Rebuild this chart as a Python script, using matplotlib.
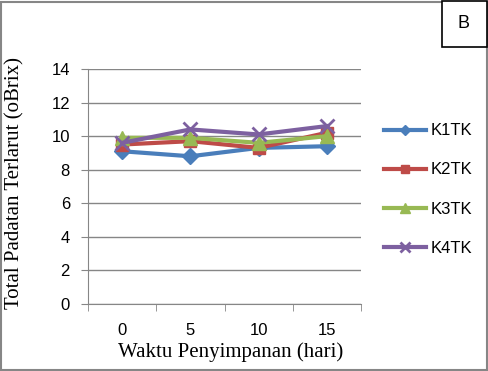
import matplotlib
matplotlib.use("Agg")
import matplotlib.pyplot as plt
from matplotlib.patches import Rectangle

days = ["0", "5", "10", "15"]
k1tk = [9.1, 8.8, 9.3, 9.4]
k2tk = [9.5, 9.7, 9.3, 10.2]
k3tk = [9.9, 9.9, 9.6, 10.0]
k4tk = [9.6, 10.4, 10.1, 10.6]
series_names = ["K1TK", "K2TK", "K3TK", "K4TK"]
y_ticks = [0, 2, 4, 6, 8, 10, 12, 14]

colors = ["#4A7EBB", "#BE4B48", "#98B954", "#7D60A0"]
markers = ["D", "s", "^", "x"]
sizes = [8, 9, 10, 10]

W, H = 489, 371
fig = plt.figure(figsize=(W / 100, H / 100), dpi=100)
ax = fig.add_axes([88 / W, 1 - 304 / H, (361 - 88) / W, (304 - 69) / H])

x = range(len(days))
for vals, name, c, m, s in zip([k1tk, k2tk, k3tk, k4tk], series_names, colors, markers, sizes):
    ax.plot(x, vals, color=c, marker=m, markersize=s, linewidth=3,
            markeredgewidth=2 if m == "x" else 1, markeredgecolor=c, label=name)

ax.set_xlim(-0.5, len(days) - 0.5)
ax.set_ylim(0, 14)
ax.set_yticks(y_ticks)
ax.set_yticklabels([str(v) for v in y_ticks], fontsize=12, family="Liberation Sans")
ax.set_xticks(list(x))
ax.set_xticklabels(days, fontsize=12, family="Liberation Sans")
ax.tick_params(axis="x", length=0, pad=14)
ax.set_xticks([i - 0.5 for i in range(len(days) + 1)], minor=True)
ax.tick_params(axis="x", which="minor", length=5, color="#868686", direction="out")
ax.tick_params(axis="y", length=5, color="#868686", direction="out", pad=8)
ax.grid(axis="y", color="#868686", linewidth=1)
ax.set_axisbelow(True)
for side in ("top", "right"):
    ax.spines[side].set_visible(False)
for side in ("left", "bottom"):
    ax.spines[side].set_color("#868686")

fig.text(15 / W, 1 - 183 / H, "Total Padatan Terlarut (oBrix)", rotation=90,
         ha="center", va="center", fontsize=15, family="Liberation Serif")
fig.text(231 / W, 1 - 352 / H, "Waktu Penyimpanan (hari)",
         ha="center", va="center", fontsize=15, family="Liberation Serif")

fig.legend(loc="upper left", bbox_to_anchor=(376 / W, 1 - 115 / H), frameon=False,
           prop={"family": "Liberation Sans", "size": 12}, labelspacing=1.45,
           handlelength=2.5, handletextpad=0.25, borderpad=0, markerscale=0.7)

# outer border and panel label box
fig.patches.append(Rectangle((1 / W, 1 / H), 1 - 3 / W, 1 - 3 / H, transform=fig.transFigure,
                             fill=False, edgecolor="#868686", linewidth=1.5))
fig.patches.append(Rectangle((442 / W, 1 - 47 / H), 45 / W, 46 / H, transform=fig.transFigure,
                             facecolor="white", edgecolor="black", linewidth=1.2))
fig.text(464 / W, 1 - 24 / H, "B", ha="center", va="center", fontsize=13, family="Liberation Sans")

fig.savefig("out.png", dpi=100)
